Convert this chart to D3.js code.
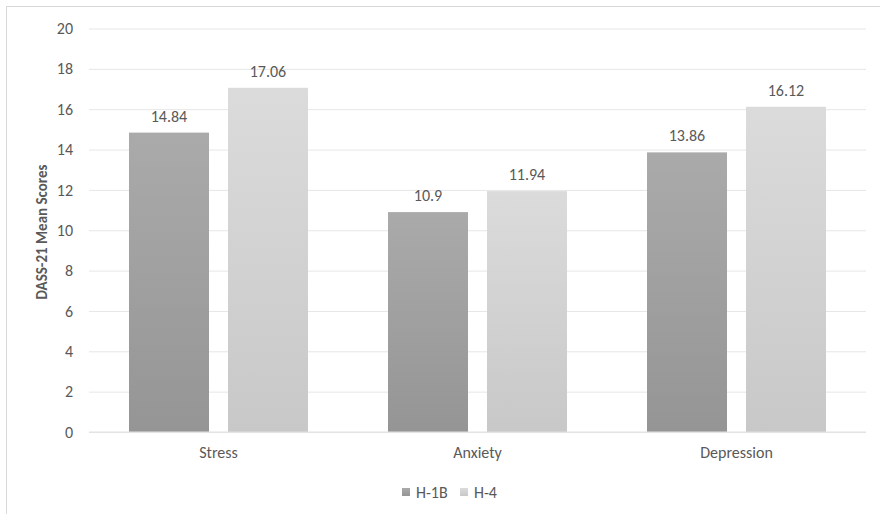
<!DOCTYPE html>
<html><head><meta charset="utf-8">
<script src="https://cdn.jsdelivr.net/npm/d3@7"></script>
<style>
body{margin:0;background:#fff;}
text{font-family:Carlito,Calibri,Lato,"Open Sans",sans-serif;}
</style></head>
<body><svg id="c" width="880" height="514"></svg>
<script>
const categories = ["Stress","Anxiety","Depression"];
const seriesNames = ["H-1B","H-4"];
const h1bValues = [14.84, 10.9, 13.86];
const h4Values = [17.06, 11.94, 16.12];
const yTicks = [0,2,4,6,8,10,12,14,16,18,20];
const yLabel = "DASS-21 Mean Scores";

const svg = d3.select("#c");
const W=880,H=514;
const m={left:89,right:866,top:28.5,bottom:432};

svg.append("rect").attr("x",6.5).attr("y",6.5).attr("width",W+10).attr("height",H+10)
  .attr("fill","#fff").attr("stroke","#d9d9d9").attr("stroke-width",1);

const defs=svg.append("defs");
const grads=[["g0","#aaaaaa","#959595"],["g1","#dbdbdb","#c8c8c8"]];
grads.forEach(([id,top,bot])=>{
  const g=defs.append("linearGradient").attr("id",id).attr("x1",0).attr("y1",0).attr("x2",0).attr("y2",1);
  g.append("stop").attr("offset","0%").attr("stop-color",top);
  g.append("stop").attr("offset","100%").attr("stop-color",bot);
});

const y=d3.scaleLinear().domain([0,20]).range([m.bottom,m.top]);
const x0=d3.scaleBand().domain(categories).range([m.left,m.right]).padding(0);
const x1=d3.scaleBand().domain(seriesNames).range([40,x0.bandwidth()-40]).paddingInner(0.192).paddingOuter(0);

const yAxis=d3.axisLeft(y).tickValues(yTicks).tickSize(-(m.right-m.left)).tickPadding(16);
const ga=svg.append("g").attr("transform",`translate(${m.left},0)`).call(yAxis);
ga.select(".domain").remove();
ga.selectAll(".tick line").attr("stroke","#e6e6e6").attr("stroke-width",1);
ga.selectAll(".tick text").attr("fill","#595959").style("font-size","16px");

const data=categories.map((c,i)=>({cat:c,vals:[{s:seriesNames[0],v:h1bValues[i]},{s:seriesNames[1],v:h4Values[i]}]}));
const grp=svg.append("g").selectAll("g").data(data).join("g")
  .attr("transform",d=>`translate(${x0(d.cat)},0)`);
grp.selectAll("rect").data(d=>d.vals).join("rect")
  .attr("x",d=>x1(d.s)).attr("width",x1.bandwidth())
  .attr("y",d=>y(d.v)).attr("height",d=>y(0)-y(d.v))
  .attr("fill",(d,i)=>`url(#g${i})`);
grp.selectAll("text.lab").data(d=>d.vals).join("text").attr("class","lab")
  .attr("x",d=>x1(d.s)+x1.bandwidth()/2).attr("y",d=>y(d.v)-11)
  .attr("text-anchor","middle").attr("fill","#595959").style("font-size","16px")
  .text(d=>d.v);

svg.append("line").attr("x1",m.left).attr("x2",m.right).attr("y1",y(0)).attr("y2",y(0))
  .attr("stroke","#e0e0e0");

const xAxis=d3.axisBottom(x0).tickSize(0).tickPadding(15);
const gx=svg.append("g").attr("transform",`translate(0,${y(0)})`).call(xAxis);
gx.select(".domain").remove();
gx.selectAll(".tick text").attr("fill","#595959").style("font-size","16px");

svg.append("text").attr("transform",`translate(47,232) rotate(-90)`)
  .attr("text-anchor","middle").attr("fill","#595959").style("font-size","15px").style("font-weight","bold")
  .text(yLabel);

const leg=svg.append("g");
const legX=[402,460];
seriesNames.forEach((s,i)=>{
  leg.append("rect").attr("x",legX[i]).attr("y",488).attr("width",8).attr("height",8).attr("fill",`url(#g${i})`);
  leg.append("text").attr("x",legX[i]+14).attr("y",492).attr("dy","0.35em").attr("fill","#595959").style("font-size","16px").text(s);
});
</script></body></html>
